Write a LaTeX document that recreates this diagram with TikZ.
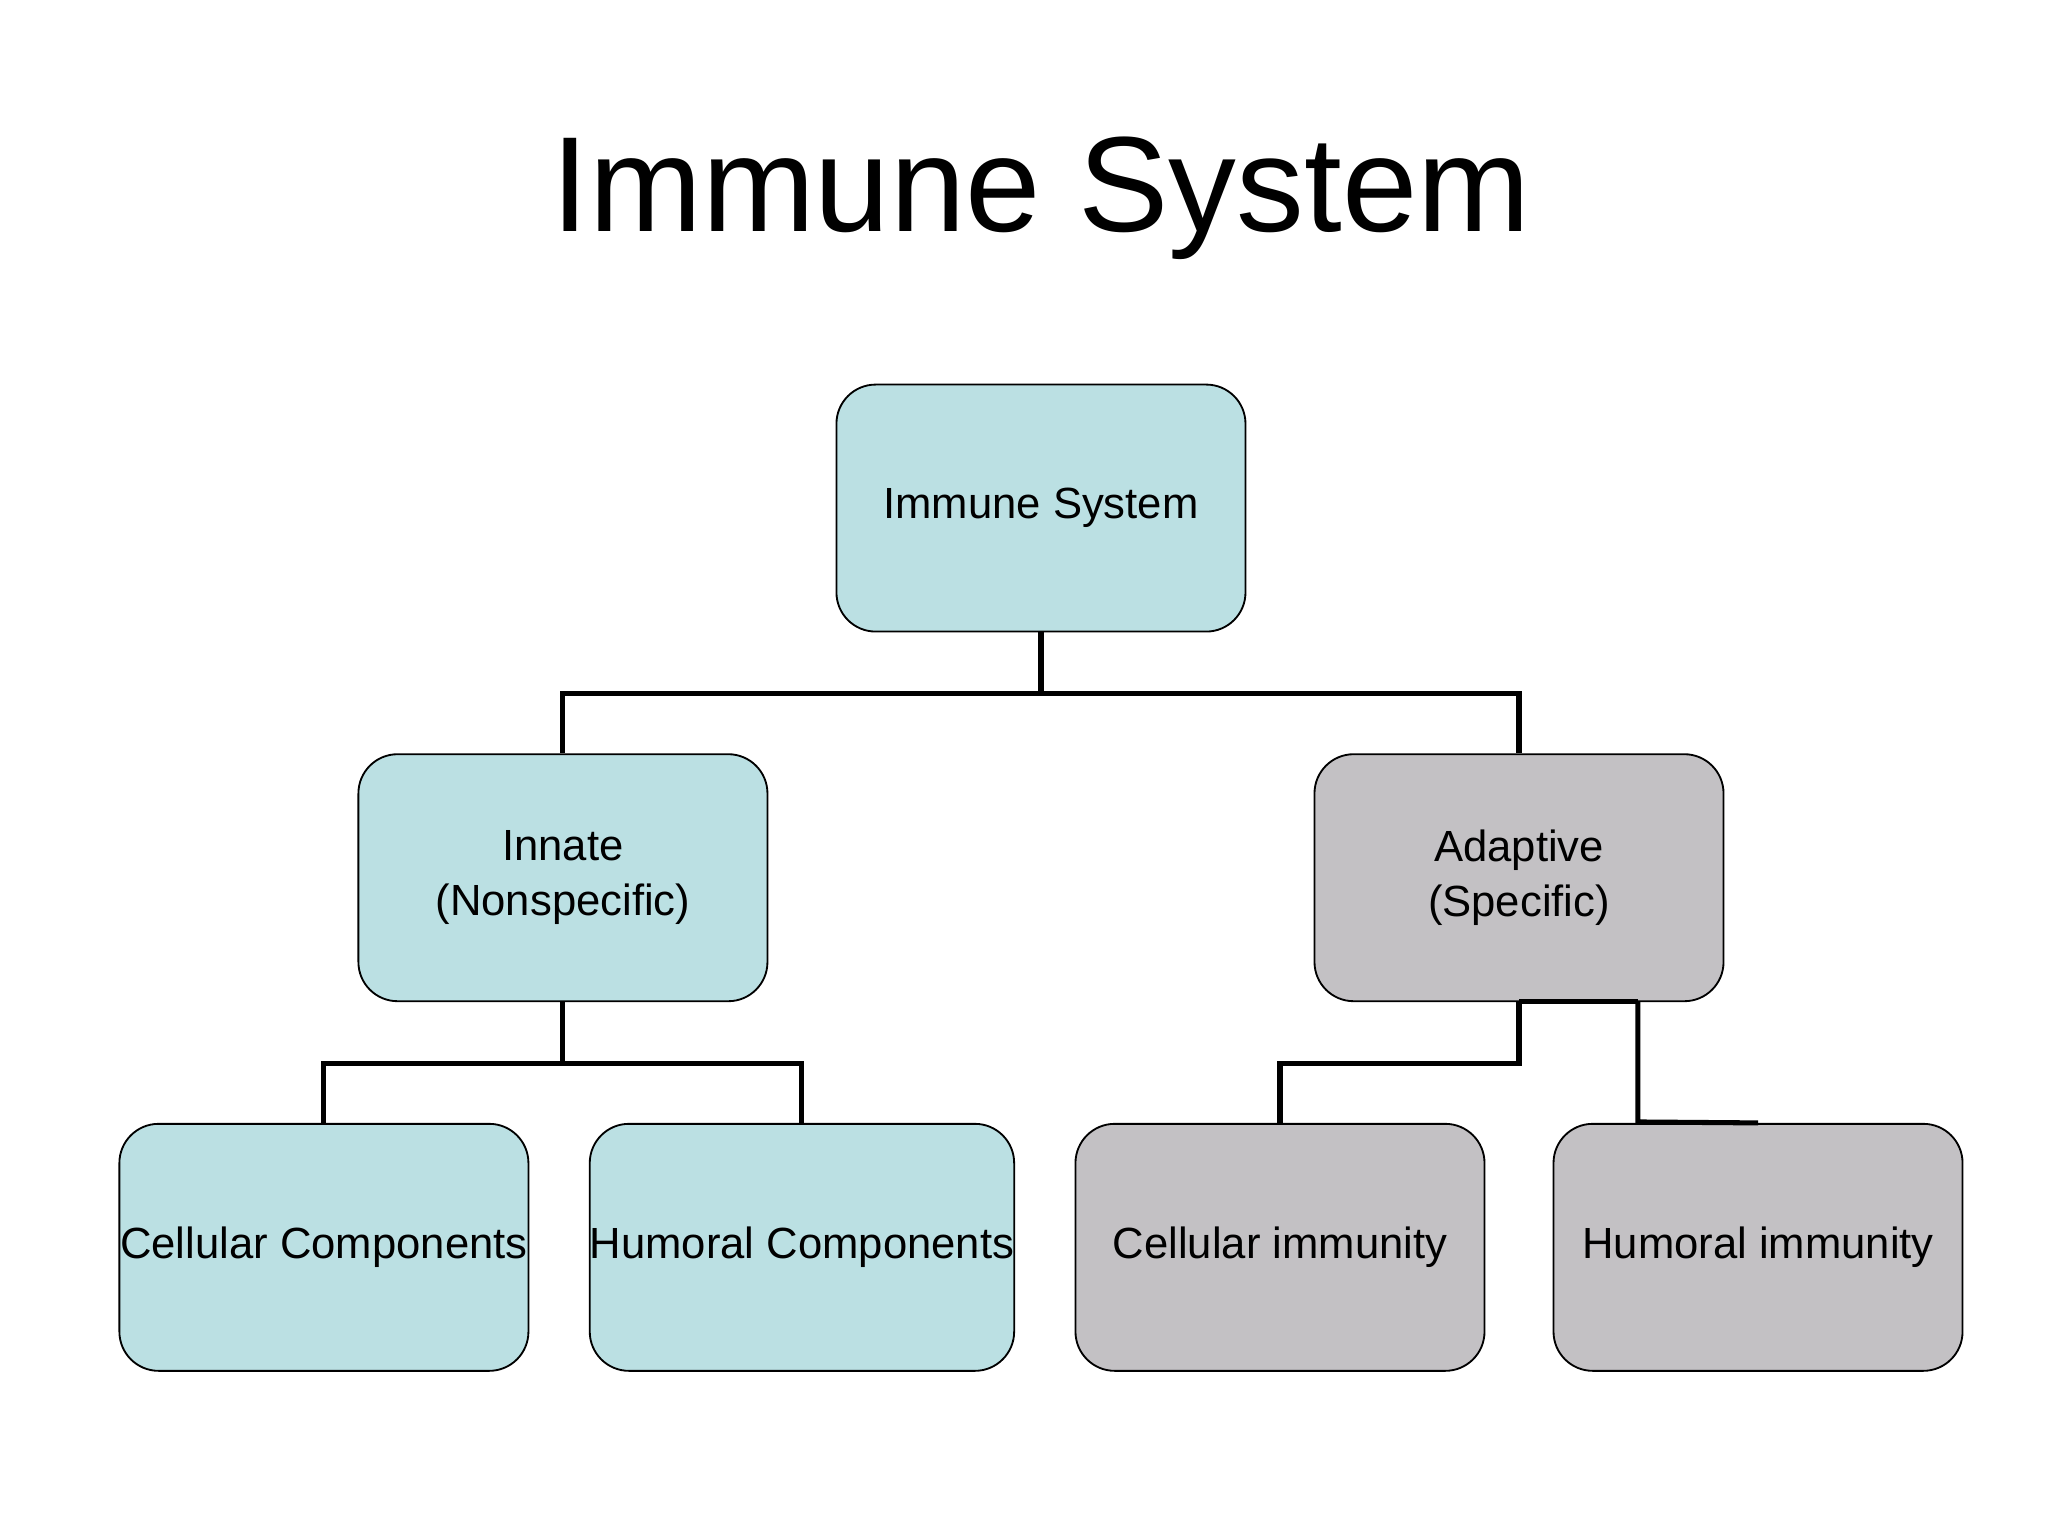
\documentclass[tikz,border=0pt]{standalone}
\usepackage{fontspec}
\setmainfont{Liberation Sans}
\begin{document}
\begin{tikzpicture}[x=0.01cm,y=-0.01cm,
  box/.style={draw,thin,rounded corners=0.3cm,minimum width=3.13cm,minimum height=1.89cm,
    align=center,font=\fontsize{9.5}{12}\selectfont,inner sep=0pt},
  teal/.style={box,fill=tealbox},
  grey/.style={box,fill=greybox},
  conn/.style={line width=1.1pt}]
\definecolor{tealbox}{HTML}{BBE0E3}
\definecolor{greybox}{HTML}{C3C1C4}
\useasboundingbox (0,0) rectangle (1568,1176);

% title
\node (title) at (797,152) {\fontsize{29.5}{34}\selectfont Immune System};

% boxes
\node[teal] (top) at (797,389) {Immune System};
\node[teal] (inn) at (431,672) {Innate\\(Nonspecific)};
\node[grey] (ada) at (1163,672) {Adaptive\\(Specific)};
\node[teal] (cc) at (248,955) {Cellular Components};
\node[teal] (hc) at (614,955) {Humoral Components};
\node[grey] (ci) at (980,955) {Cellular immunity};
\node[grey] (hi) at (1346,955) {Humoral immunity};

% connectors
\draw[conn] (top.south) -- ++(0,47) -| (inn.north);
\draw[conn] (top.south) -- ++(0,47) -| (ada.north);
\draw[conn] (inn.south) -- ++(0,47) -| (cc.north);
\draw[conn] (inn.south) -- ++(0,47) -| (hc.north);
\draw[conn] (ada.south) -- ++(0,47) -| (ci.north);
\coordinate (a2) at (1254,767);
\draw[conn] (a2) -- (1163,767);
\draw[conn] (a2) -- (1254,859) -- (hi.north);
\end{tikzpicture}
\end{document}
